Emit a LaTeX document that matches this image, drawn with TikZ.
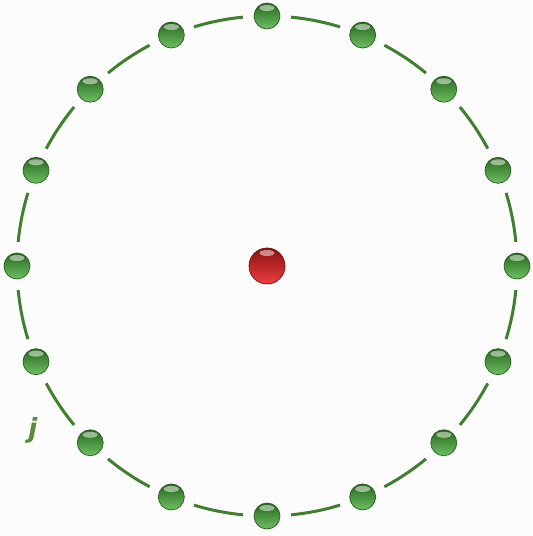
\documentclass[tikz,border=0pt]{standalone}
\usepackage{fontspec}
\setsansfont{DejaVu Sans}
\usepackage{xcolor}
\definecolor{ringGreen}{HTML}{3F7F2F}
\definecolor{ballGreen}{HTML}{3FAA30}
\definecolor{ballEdge}{HTML}{2A5F20}
\definecolor{ballRed}{HTML}{E81C1C}
\definecolor{labelGreen}{HTML}{5A8A3A}
\definecolor{pageBg}{HTML}{FCFCFC}
\usetikzlibrary{calc}
\tikzset{
  %% the sixteen beads on the ring: glassy, dark rim on top, light below
  bille/.style     = {circle, minimum size=0.52cm, inner sep=0pt, draw=ballEdge,
                      line width=0.4pt, top color=ballGreen!60!black,
                      middle color=ballGreen, bottom color=ballGreen!75!white,
                      path picture={
                        \fill[white, opacity=0.5]
                          ($(path picture bounding box.north)+(0,-0.1)$)
                          ellipse[x radius=0.15, y radius=0.06];}},
  %% the one in the middle
  billeRouge/.style = {bille, minimum size=0.72cm, draw=ballRed!50!black,
                      top color=ballRed!60!black, middle color=ballRed,
                      bottom color=ballRed!85!white},
  anneau/.style    = {draw=ringGreen, line width=1.7pt},
  etiquette/.style = {font=\sffamily\bfseries\itshape\fontsize{15}{15}\selectfont,
                      text=labelGreen, inner sep=0pt},
}

\begin{document}
\begin{tikzpicture}[x=1cm, y=1cm]

\fill[pageBg] (-5.34, -5.40) rectangle (5.30, 5.32);
\useasboundingbox (-5.34, -5.40) rectangle (5.30, 5.32);

%% ring segments, leaving a gap round each bead
\foreach \k in {0,...,15}
  \draw[anneau] ({90+22.5*\k+5.5}:5) arc[start angle={90+22.5*\k+5.5},
                                          end angle={90+22.5*(\k+1)-5.5}, radius=5];

\foreach \k in {0,...,15}
  \node[bille] (b\k) at ({90+22.5*\k}:5) {};

\node[billeRouge] (centre) at (0, 0) {};

\node[etiquette] (j) at (-4.68, -3.28) {j};

\end{tikzpicture}
\end{document}
